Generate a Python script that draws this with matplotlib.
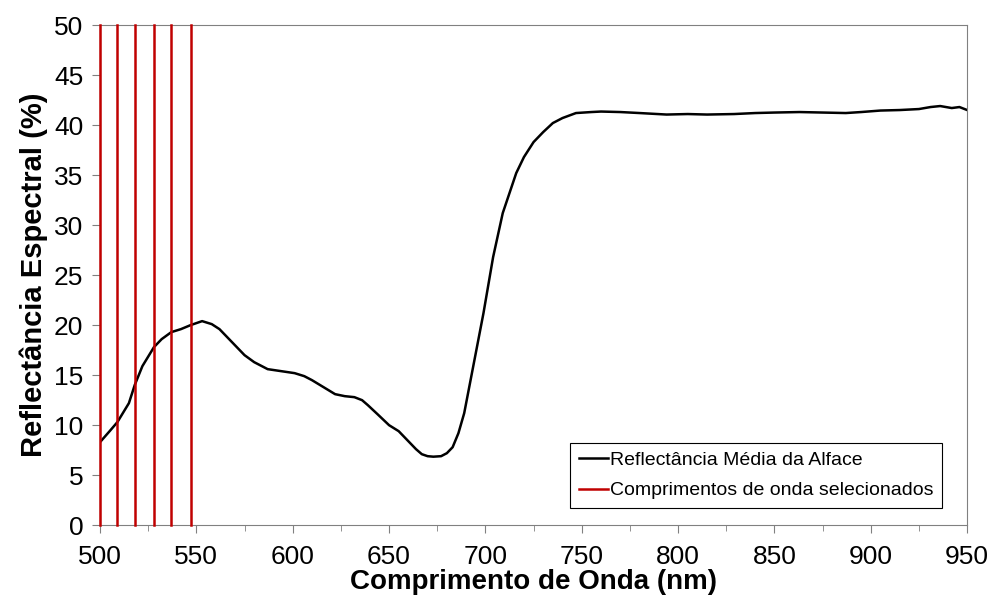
import matplotlib.pyplot as plt
from matplotlib.ticker import MultipleLocator

plt.rcParams['font.family'] = ['Liberation Sans', 'DejaVu Sans']

# average lettuce reflectance
wavelength = [500, 505, 509, 515, 518, 522, 528, 532, 537, 542, 547, 550, 553, 558,
              562, 567, 571, 575, 580, 587, 594, 601, 606, 610, 616, 622, 627, 632,
              636, 639, 644, 650, 655, 659, 664, 667, 670, 673, 677, 680, 683, 686,
              689, 694, 699, 704, 709, 716, 720, 725, 730, 735, 740, 747, 755, 760,
              770, 780, 794, 805, 815, 829, 840, 850, 863, 875, 887, 895, 905, 915,
              925, 931, 936, 942, 946, 950]
reflectance = [8.3, 9.4, 10.3, 12.2, 14.0, 15.9, 17.8, 18.6, 19.3, 19.6, 20.0, 20.2, 20.4, 20.1,
               19.6, 18.6, 17.8, 17.0, 16.3, 15.6, 15.4, 15.2, 14.9, 14.5, 13.8, 13.1, 12.9, 12.8,
               12.5, 12.0, 11.1, 10.0, 9.4, 8.6, 7.6, 7.1, 6.9, 6.85, 6.9, 7.2, 7.8, 9.2,
               11.2, 16.2, 21.2, 26.8, 31.2, 35.2, 36.8, 38.3, 39.3, 40.2, 40.7, 41.2, 41.3, 41.35,
               41.3, 41.2, 41.05, 41.1, 41.05, 41.1, 41.2, 41.25, 41.3, 41.25, 41.2, 41.3, 41.45, 41.5,
               41.6, 41.8, 41.9, 41.7, 41.8, 41.5]

# selected wavelengths (red vertical lines)
selected = [500, 509, 518, 528, 537, 547]

fig, ax = plt.subplots(figsize=(9.94, 6.10), dpi=100)
fig.subplots_adjust(left=0.1006, right=0.973, top=0.959, bottom=0.139)

ax.plot(wavelength, reflectance, color='black', lw=1.8, label='Reflectância Média da Alface')
for i, w in enumerate(selected):
    ax.axvline(w, color='#C00000', lw=1.8, zorder=3, clip_on=False,
               label='Comprimentos de onda selecionados' if i == 0 else None)

ax.set_xlim(500, 950)
ax.set_ylim(0, 50)
ax.xaxis.set_major_locator(MultipleLocator(50))
ax.xaxis.set_minor_locator(MultipleLocator(25))
ax.yaxis.set_major_locator(MultipleLocator(5))
ax.tick_params(axis='both', which='major', labelsize=19, length=6, color='#808080', pad=6)
ax.tick_params(axis='x', which='major', pad=8)
ax.tick_params(axis='x', which='minor', length=4, color='#808080')
for s in ax.spines.values():
    s.set_color('#808080')

ax.set_xlabel('Comprimento de Onda (nm)', fontsize=20, fontweight='bold', labelpad=0)
ax.set_ylabel('Reflectância Espectral (%)', fontsize=21, fontweight='bold', labelpad=4)

leg = ax.legend(loc='lower right', bbox_to_anchor=(0.971, 0.034), fontsize=14, frameon=True,
                fancybox=False, framealpha=1, edgecolor='black', handlelength=1.5,
                handletextpad=0.1, borderpad=0.45, labelspacing=0.65, borderaxespad=0)
leg.get_frame().set_linewidth(0.8)

plt.savefig('out.png', dpi=100)
